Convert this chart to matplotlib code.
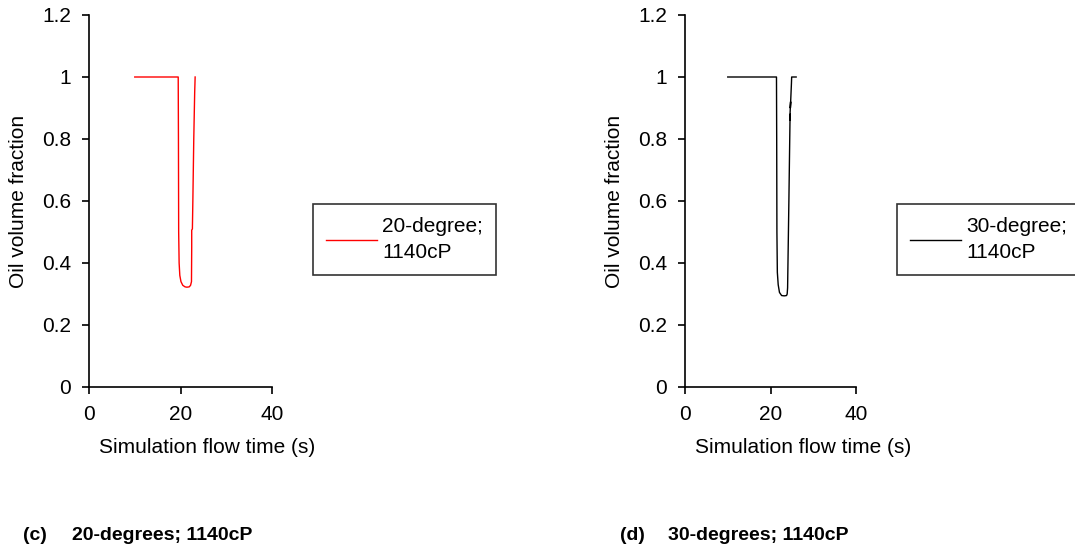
import matplotlib
matplotlib.use('Agg')
import matplotlib.pyplot as plt

plt.rcParams['font.family'] = ['Liberation Sans', 'DejaVu Sans']

# data
t_20deg = [10.0, 19.5, 19.55, 19.6, 19.7, 19.85, 20.1, 20.5, 21.0, 21.4, 21.9, 22.2, 22.4,
           22.45, 22.45, 22.6, 22.7, 22.9, 23.1, 23.2]
v_20deg = [1.0, 1.0, 0.80, 0.50, 0.40, 0.36, 0.34, 0.328, 0.323, 0.322, 0.323, 0.328, 0.34,
           0.45, 0.506, 0.51, 0.60, 0.80, 0.95, 1.0]

t_30deg = [10.0, 21.4, 21.45, 21.5, 21.6, 21.8, 22.1, 22.6, 23.2, 23.75, 23.9, 24.0, 24.3,
           24.55, 24.6, 24.5, 24.7, 24.65, 24.9, 24.95, 26.0]
v_30deg = [1.0, 1.0, 0.80, 0.50, 0.37, 0.33, 0.305, 0.295, 0.294, 0.295, 0.30, 0.32, 0.60,
           0.85, 0.88, 0.86, 0.92, 0.90, 0.98, 1.0, 1.0]

x_ticks = [0, 20, 40]
y_ticks = [0, 0.2, 0.4, 0.6, 0.8, 1.0, 1.2]
y_ticklabels = ['0', '0.2', '0.4', '0.6', '0.8', '1', '1.2']

panels = [
    dict(t=t_20deg, v=v_20deg, color='#ff0000', label='20-degree;\n1140cP',
         rect=[89 / 1075, 1 - 387 / 555, 183 / 1075, 372 / 555], leg_x=313 / 1075, xlab_x=0.643,
         cap_tag='(c)', cap_txt='20-degrees; 1140cP', cap_x=(23 / 1075, 72 / 1075)),
    dict(t=t_30deg, v=v_30deg, color='black', label='30-degree;\n1140cP',
         rect=[685 / 1075, 1 - 387 / 555, 171 / 1075, 372 / 555], leg_x=897 / 1075, xlab_x=0.688,
         cap_tag='(d)', cap_txt='30-degrees; 1140cP', cap_x=(620 / 1075, 668 / 1075)),
]

fs = 15
fig = plt.figure(figsize=(10.75, 5.55), dpi=100)

for p in panels:
    ax = fig.add_axes(p['rect'])
    line, = ax.plot(p['t'], p['v'], color=p['color'], lw=1.0)
    ax.set_xlim(0, 40)
    ax.set_ylim(0, 1.2)
    ax.set_xticks(x_ticks)
    ax.set_yticks(y_ticks)
    ax.set_yticklabels(y_ticklabels)
    for s in ['top', 'right']:
        ax.spines[s].set_visible(False)
    for s in ['left', 'bottom']:
        ax.spines[s].set_linewidth(1.2)
    ax.tick_params(length=5, width=1.2, labelsize=fs, pad=8)
    ax.set_xlabel('Simulation flow time (s)', fontsize=fs, labelpad=10, x=p['xlab_x'])
    ax.set_ylabel('Oil volume fraction', fontsize=fs, labelpad=10)

    leg = fig.legend([line], [p['label']], loc='upper left',
                     bbox_to_anchor=(p['leg_x'], 1 - 204 / 555), borderaxespad=0,
                     fontsize=fs, frameon=True, fancybox=False, borderpad=0.62,
                     handlelength=2.45, handletextpad=0.25)
    leg.get_frame().set_edgecolor('black')
    leg.get_frame().set_linewidth(1.2)
    for txt in leg.get_texts():
        txt.set_linespacing(1.45)

    fig.text(p['cap_x'][0], 1 - 535 / 555, p['cap_tag'], fontsize=14,
             fontweight='bold', va='center')
    fig.text(p['cap_x'][1], 1 - 535 / 555, p['cap_txt'], fontsize=14,
             fontweight='bold', va='center')

fig.savefig('out.png', dpi=100)
